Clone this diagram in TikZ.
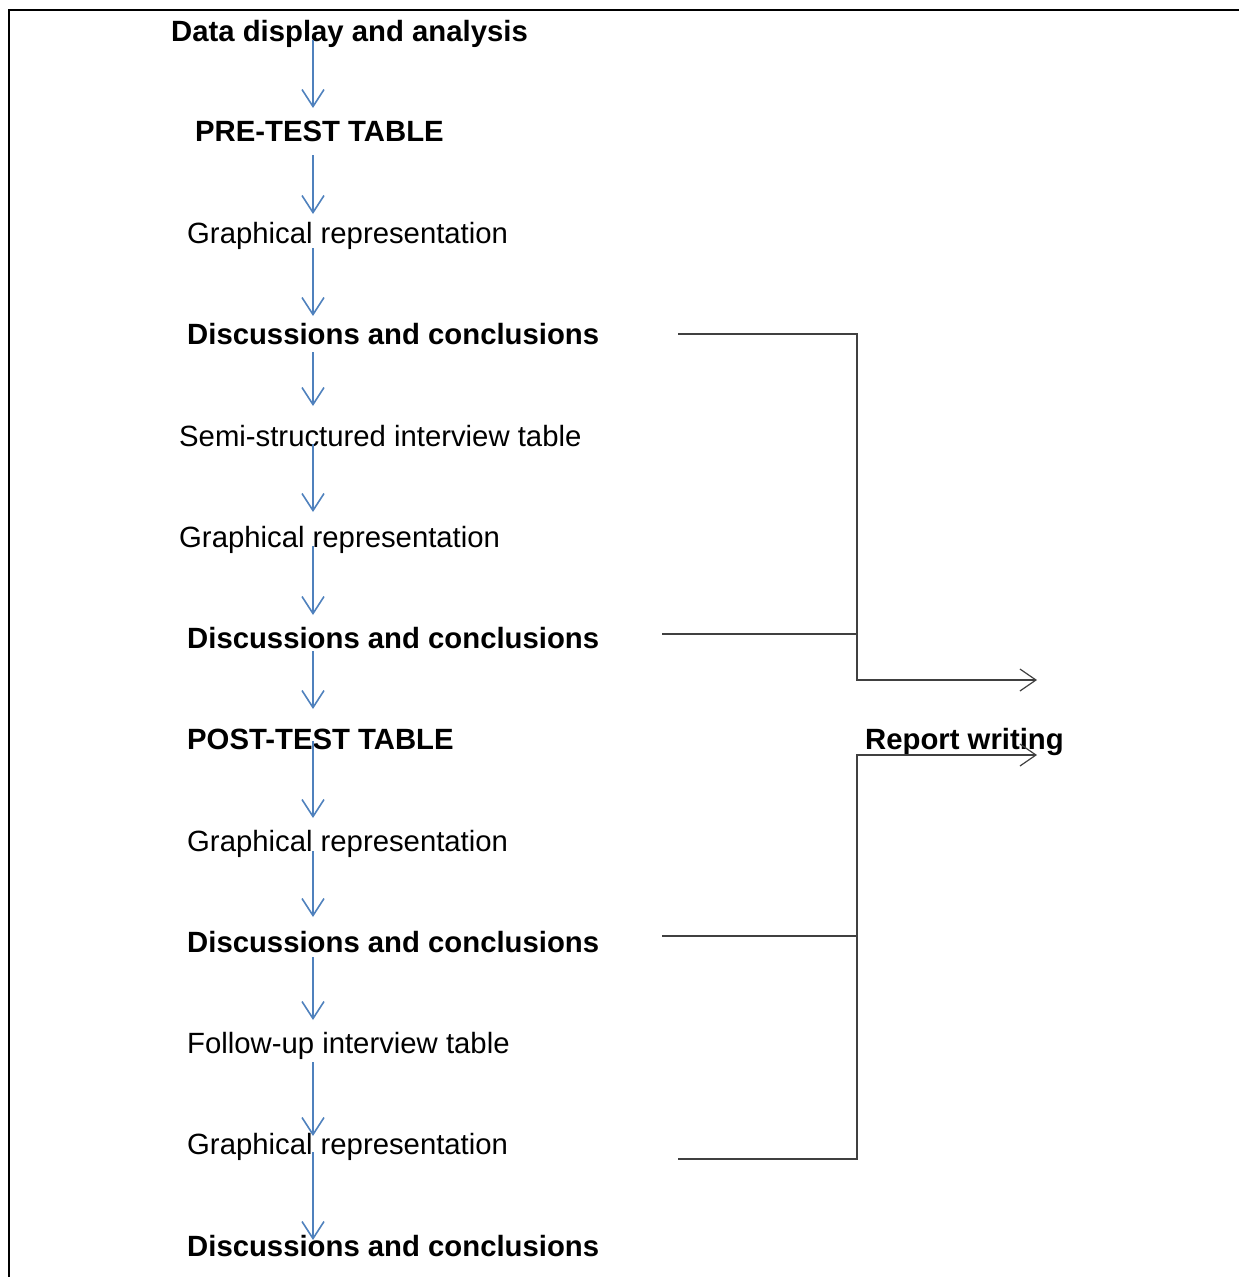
\documentclass[tikz,border=0pt]{standalone}
\usepackage{fontspec}
\setmainfont{Liberation Sans}
\usetikzlibrary{arrows.meta}
\definecolor{flowblue}{HTML}{4F81BD}
\definecolor{linkgray}{HTML}{404040}
\begin{document}
\begin{tikzpicture}[x=1pt,y=-1pt,
  lbl/.style={anchor=base west,inner sep=0pt,font=\fontsize{29.3}{34}\selectfont},
  lblb/.style={lbl,font=\fontsize{29.3}{34}\selectfont\bfseries},
  flow/.style={draw=flowblue,line width=1.8pt,-{Straight Barb[length=17pt,width=22pt,line width=1.6pt]}},
  link/.style={draw=linkgray,line width=1.4pt},
  linkarrow/.style={link,-{Straight Barb[length=16pt,width=22pt,line width=1.2pt]}}]
\useasboundingbox (0,0) rectangle (1239,1277);
% page frame (top and left edges)
\draw[line width=2pt] (1239,10) -- (9,10) -- (9,1277);

% left column of steps
\node[lblb] (t1)  at (171,41)   {Data display and analysis};
\node[lblb] (t2)  at (195,141)  {PRE-TEST TABLE};
\node[lbl]  (t3)  at (187,243)  {Graphical representation};
\node[lblb] (t4)  at (187,344)  {Discussions and conclusions};
\node[lbl]  (t5)  at (179,446)  {Semi-structured interview table};
\node[lbl]  (t6)  at (179,547)  {Graphical representation};
\node[lblb] (t7)  at (187,648)  {Discussions and conclusions};
\node[lblb] (t8)  at (187,749)  {POST-TEST TABLE};
\node[lbl]  (t9)  at (187,851)  {Graphical representation};
\node[lblb] (t10) at (187,952)  {Discussions and conclusions};
\node[lbl]  (t11) at (187,1053) {Follow-up interview table};
\node[lbl]  (t12) at (187,1154) {Graphical representation};
\node[lblb] (t13) at (187,1256) {Discussions and conclusions};

% result on the right
\node[lblb] (rw) at (865,749) {Report writing};

% ends of the blue step arrows
\coordinate (a1s) at (313,40);   \coordinate (a1e) at (313,108);
\coordinate (a2s) at (313,155);  \coordinate (a2e) at (313,214);
\coordinate (a3s) at (313,248);  \coordinate (a3e) at (313,316);
\coordinate (a4s) at (313,352);  \coordinate (a4e) at (313,406);
\coordinate (a5s) at (313,444);  \coordinate (a5e) at (313,512);
\coordinate (a6s) at (313,546);  \coordinate (a6e) at (313,615);
\coordinate (a7s) at (313,651);  \coordinate (a7e) at (313,709);
\coordinate (a8s) at (313,741);  \coordinate (a8e) at (313,818);
\coordinate (a9s) at (313,851);  \coordinate (a9e) at (313,917);
\coordinate (a10s) at (313,957); \coordinate (a10e) at (313,1020);
\coordinate (a11s) at (313,1062);\coordinate (a11e) at (313,1136);
\coordinate (a12s) at (313,1152);\coordinate (a12e) at (313,1240);

\foreach \i in {1,...,6,8,9,10,11,12}
  \draw[flow] (a\i s) -- (a\i e);
\draw[flow,line width=2.6pt] (a7s) -- (a7e);

% black collector lines towards the report
\coordinate (c1) at (678,334);
\coordinate (c2) at (662,634);
\coordinate (c3) at (662,936);
\coordinate (c4) at (678,1159);
\coordinate (up)   at (1037,680);
\coordinate (down) at (1037,755);

\draw[linkarrow] (c1) -- (857,334) -- (857,680) -- (up);
\draw[link] (c2) -- (857,634);
\draw[linkarrow] (c4) -- (857,1159) -- (857,755) -- (down);
\draw[link] (c3) -- (857,936);
\end{tikzpicture}
\end{document}
